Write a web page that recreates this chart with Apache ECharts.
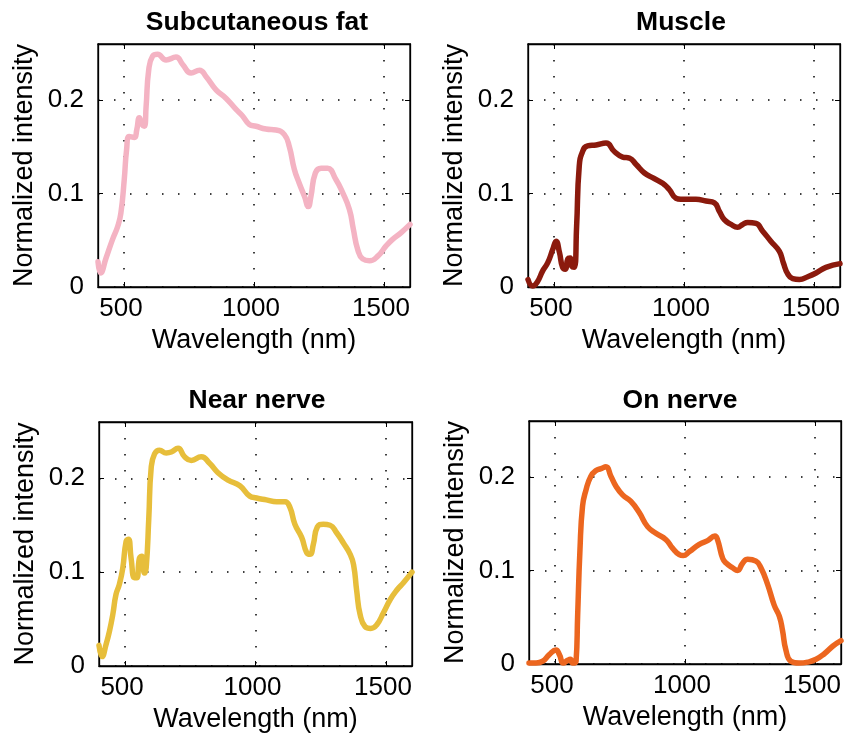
<!DOCTYPE html>
<html>
<head>
<meta charset="utf-8">
<style>
html,body{margin:0;padding:0;background:#fff;}
#chart{width:851px;height:739px;}
</style>
<script src="https://cdn.jsdelivr.net/npm/echarts@6/dist/echarts.min.js"></script>
</head>
<body>
<div id="chart"></div>
<script>
// ---- Data ----
const panelTitles = ['Subcutaneous fat', 'Muscle', 'Near nerve', 'On nerve'];
const xTicks = [500, 1000, 1500];
const yTicks = [0, 0.1, 0.2];
const xLabelName = 'Wavelength (nm)';
const yLabelName = 'Normalized intensity';

const fatWl  = [400,410,431,456,476,488,501,510,520,540,549,559,569,578,585,595,610,629,662,700,726,758,790,816,854,892,931,956,982,1008,1046,1085,1117,1136,1155,1174,1194,1209,1219,1236,1258,1283,1315,1341,1367,1382,1399,1418,1444,1476,1508,1533,1565,1600];
const fatVal = [0.027,0.015,0.031,0.051,0.065,0.079,0.115,0.147,0.161,0.160,0.168,0.181,0.174,0.172,0.193,0.232,0.247,0.249,0.243,0.246,0.238,0.229,0.232,0.225,0.211,0.202,0.190,0.183,0.174,0.172,0.169,0.168,0.163,0.150,0.126,0.111,0.097,0.086,0.097,0.122,0.127,0.127,0.115,0.101,0.083,0.062,0.040,0.030,0.028,0.033,0.044,0.051,0.058,0.067];

const muscleWl  = [400,418,437,456,476,495,508,521,533,544,553,562,569,578,587,597,610,629,662,700,732,764,790,816,848,879,918,944,969,988,1046,1085,1117,1136,1155,1181,1206,1226,1245,1277,1302,1334,1367,1382,1399,1418,1444,1476,1508,1546,1600];
const muscleVal = [0.008,0.001,0.006,0.017,0.026,0.040,0.049,0.037,0.021,0.019,0.030,0.031,0.022,0.021,0.065,0.129,0.145,0.151,0.152,0.154,0.145,0.139,0.138,0.131,0.122,0.117,0.111,0.104,0.095,0.094,0.094,0.092,0.090,0.081,0.072,0.067,0.064,0.067,0.069,0.068,0.060,0.049,0.038,0.026,0.014,0.009,0.008,0.011,0.015,0.021,0.025];

const nearWl  = [400,412,427,440,453,465,478,491,504,513,523,536,545,555,564,574,581,591,600,613,632,658,677,703,728,754,792,824,856,895,940,978,1004,1042,1081,1113,1132,1151,1177,1196,1209,1222,1237,1260,1286,1311,1337,1363,1376,1388,1401,1420,1442,1465,1491,1517,1542,1568,1600];
const nearVal = [0.022,0.010,0.023,0.037,0.055,0.076,0.087,0.104,0.133,0.135,0.115,0.094,0.094,0.115,0.117,0.099,0.105,0.158,0.211,0.226,0.230,0.227,0.228,0.232,0.223,0.219,0.223,0.216,0.206,0.198,0.192,0.181,0.179,0.177,0.175,0.175,0.169,0.151,0.137,0.121,0.119,0.130,0.148,0.151,0.150,0.142,0.131,0.119,0.108,0.080,0.055,0.042,0.040,0.044,0.057,0.071,0.081,0.089,0.100];

const onWl  = [400,427,453,478,504,517,532,549,559,568,581,587,596,606,619,638,658,677,696,715,735,760,792,824,856,888,927,952,978,993,1016,1055,1087,1115,1125,1145,1158,1183,1202,1222,1241,1273,1292,1318,1343,1363,1375,1388,1407,1439,1472,1504,1536,1568,1600];
const onVal = [0.001,0.001,0.003,0.010,0.015,0.010,0.001,0.004,0.005,0.001,0.003,0.051,0.122,0.169,0.186,0.201,0.207,0.209,0.211,0.201,0.190,0.181,0.174,0.162,0.147,0.140,0.133,0.124,0.117,0.116,0.120,0.128,0.132,0.137,0.133,0.113,0.108,0.103,0.100,0.108,0.112,0.110,0.103,0.085,0.063,0.051,0.036,0.015,0.003,0.001,0.002,0.005,0.011,0.019,0.025];

const panelWl = [fatWl, muscleWl, nearWl, onWl];
const panelVal = [fatVal, muscleVal, nearVal, onVal];
const panelColors = ['#F4B3C3', '#8B1A0D', '#E7BE3B', '#EC661F'];

// ---- Layout ----
const grids = [
  {left: 98, top: 44, width: 312, height: 243},
  {left: 528, top: 44, width: 312, height: 243},
  {left: 99, top: 422, width: 313, height: 244},
  {left: 529, top: 421, width: 312, height: 243}
];
const titlePos = [{x: 257, y: 9}, {x: 681, y: 9}, {x: 257, y: 387}, {x: 680, y: 387}];

const FONT = '"Liberation Sans", Arial, Helvetica, sans-serif';
const FS = 26;
const FS_NAME = 27;
const fmt = v => String(v);

const option = {
  animation: false,
  backgroundColor: '#fff',
  title: [],
  grid: [],
  xAxis: [],
  yAxis: [],
  series: []
};

const gridLine = {show: true, lineStyle: {color: '#000', width: 1.5, type: [1.5, 14.5]}};

grids.forEach((g, i) => {
  option.grid.push(Object.assign({show: true, borderColor: '#000', borderWidth: 1.3, backgroundColor: '#fff', containLabel: false}, g));
  option.title.push({
    text: panelTitles[i], left: titlePos[i].x, top: titlePos[i].y, textAlign: 'center',
    padding: 0,
    textStyle: {fontFamily: FONT, fontSize: 26.5, fontWeight: 'bold', color: '#000'}
  });
  option.xAxis.push({
    type: 'value', gridIndex: i, min: 400, max: 1600, position: 'bottom',
    name: xLabelName, nameLocation: 'middle', nameGap: 40,
    nameTextStyle: {fontFamily: FONT, fontSize: FS_NAME, color: '#000'},
    axisLine: {show: true, onZero: false, lineStyle: {color: '#000', width: 1.3}},
    axisTick: {show: true, inside: true, length: 5, customValues: xTicks, lineStyle: {color: '#000', width: 1}},
    axisLabel: {show: true, customValues: xTicks, formatter: fmt, margin: 9, padding: [0, 6, 0, 0], fontFamily: FONT, fontSize: FS, color: '#000'},
    splitLine: gridLine
  });
  option.xAxis.push({
    type: 'value', gridIndex: i, min: 400, max: 1600, position: 'top',
    axisLine: {show: true, onZero: false, lineStyle: {color: '#000', width: 1.3}},
    axisTick: {show: true, inside: true, length: 5, customValues: xTicks, lineStyle: {color: '#000', width: 1}},
    axisLabel: {show: false},
    splitLine: {show: false}
  });
  option.yAxis.push({
    type: 'value', gridIndex: i, min: 0, max: 0.26, position: 'left',
    name: yLabelName, nameLocation: 'middle', nameGap: 60, nameRotate: 90,
    nameTextStyle: {fontFamily: FONT, fontSize: FS_NAME, color: '#000'},
    axisLine: {show: true, onZero: false, lineStyle: {color: '#000', width: 1.3}},
    axisTick: {show: true, inside: true, length: 5, customValues: yTicks, lineStyle: {color: '#000', width: 1}},
    axisLabel: {show: true, customValues: yTicks, formatter: fmt, margin: 14, fontFamily: FONT, fontSize: FS, color: '#000'},
    splitLine: gridLine
  });
  option.yAxis.push({
    type: 'value', gridIndex: i, min: 0, max: 0.26, position: 'right',
    axisLine: {show: true, onZero: false, lineStyle: {color: '#000', width: 1.3}},
    axisTick: {show: true, inside: true, length: 5, customValues: yTicks, lineStyle: {color: '#000', width: 1}},
    axisLabel: {show: false},
    splitLine: {show: false}
  });
  const data = panelWl[i].map((w, k) => [w, panelVal[i][k]]);
  option.series.push({
    type: 'line', xAxisIndex: 2 * i, yAxisIndex: 2 * i, data: data,
    showSymbol: false, smooth: 0.5, clip: true,
    lineStyle: {color: panelColors[i], width: 5.5, cap: 'round', join: 'round'}
  });
});

const chart = echarts.init(document.getElementById('chart'), null, {renderer: 'canvas'});
chart.setOption(option);
</script>
</body>
</html>
